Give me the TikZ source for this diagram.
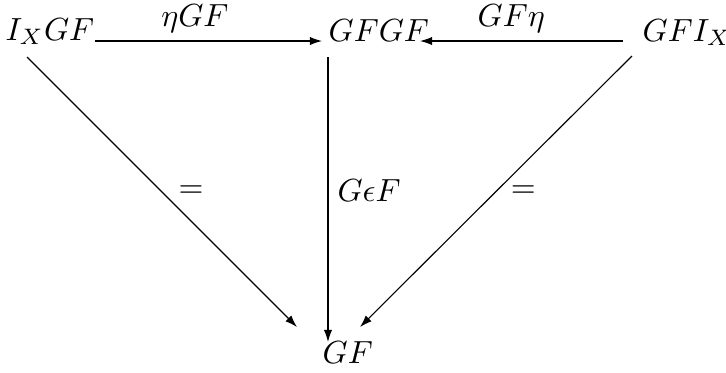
\documentclass[tikz,border=0pt]{standalone}
\usetikzlibrary{arrows.meta,calc}

\tikzset{
  obj/.style={inner sep=0pt, anchor=base west},
  arr/.style={-{Latex[length=3.8pt,width=2.6pt]}, line width=0.35pt},
  lbl/.style={inner sep=0pt, anchor=base}
}

\begin{document}
\begin{tikzpicture}[x=0.3125pt, y=-0.3125pt]
  \useasboundingbox (0,0) rectangle (726,372);
  % objects
  \node[obj] (ixgf) at (5,40) {$I_XGF$};
  \node[obj] (gfgf) at (328,41) {$GFGF$};
  \node[obj] (gfix) at (642,41) {$GFI_X$};
  \node[obj] (gf)   at (322,363) {$GF$};
  % top row
  \draw[arr] ($(ixgf.base west)+(90,1)$) -- ($(gfgf.base west)+(-6,0)$)
    node[lbl, pos=0.44, yshift=4.4pt] {$\eta GF$};
  \draw[arr] ($(gfix.base west)+(-19,0)$) -- ($(gfgf.base west)+(92,0)$)
    node[lbl, pos=0.55, yshift=4.4pt] {$GF\eta$};
  % down to GF
  \draw[arr] ($(gfgf.base west)+(0,16)$) -- ($(gf.base west)+(6,-21)$)
    node[pos=0.47, anchor=west, inner sep=0pt, xshift=2.8pt] {$G\epsilon F$};
  \draw[arr] ($(ixgf.base west)+(22,17)$) -- ($(gf.base west)+(-25,-36)$)
    node[pos=0.5, anchor=west, inner sep=0pt, xshift=5pt] {$=$};
  \draw[arr] ($(gfix.base west)+(-10,15)$) -- ($(gf.base west)+(38,-36)$)
    node[pos=0.5, anchor=west, inner sep=0pt, xshift=4.5pt] {$=$};
\end{tikzpicture}
\end{document}
